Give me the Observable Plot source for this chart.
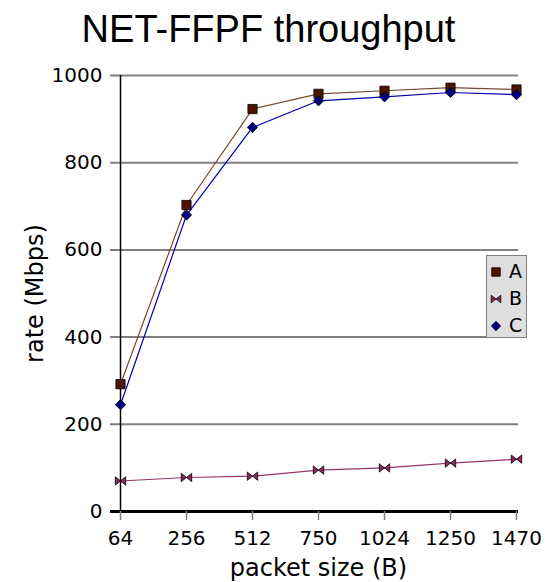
<!DOCTYPE html>
<html>
<head>
<meta charset="utf-8">
<script src="https://cdn.jsdelivr.net/npm/d3@7"></script>
<script src="https://cdn.jsdelivr.net/npm/@observablehq/plot@0.6"></script>
<style>
  html, body { margin: 0; padding: 0; background: white; }
  #wrap { position: relative; width: 545px; height: 582px; overflow: hidden; }
  #title { height: 58px; line-height: 58px; font-family: "Liberation Sans", Arial, sans-serif; font-size: 38px; text-align: center; padding-right: 8px; color: black; white-space: nowrap; }
  #legend { position: absolute; left: 486px; top: 255px; width: 41px; height: 83px; background: #dedede; border: 1px solid #808080; box-sizing: border-box; font-family: "DejaVu Sans", sans-serif; font-size: 19px; }
  .item { position: absolute; left: 0; height: 20px; width: 40px; }
  .item svg { position: absolute; left: 1px; top: 2px; }
  .item span { position: absolute; left: 22px; top: -1px; line-height: 20px; }
</style>
</head>
<body>
<div id="wrap">
  <div id="title">NET-FFPF throughput</div>
  <div id="chart"></div>
  <div id="legend"></div>
</div>
<script>
const sizes = ["64", "256", "512", "750", "1024", "1250", "1470"];
const rateA = [292, 703, 923, 958, 965, 972, 968];
const rateB = [70, 78, 81, 95, 100, 111, 120];
const rateC = [245, 680, 881, 942, 951, 961, 956];
const seriesNames = ["A", "B", "C"];
const yTicks = [0, 200, 400, 600, 800, 1000];

const bowtie = {
  draw(context, size) {
    const r = Math.sqrt(size / Math.PI);
    const h = r * 0.8;
    context.moveTo(-r, -h);
    context.lineTo(0, 0);
    context.lineTo(-r, h);
    context.closePath();
    context.moveTo(r, -h);
    context.lineTo(0, 0);
    context.lineTo(r, h);
    context.closePath();
  }
};

const styles = {
  A: {line: "#7a4632", fill: "#4d1600", symbol: "square", r: 5.2},
  B: {line: "#993366", fill: "#8c2a5c", symbol: bowtie, r: 5.2},
  C: {line: "#0000b0", fill: "#000080", symbol: "diamond2", r: 4.6}
};

const rows = [];
[rateA, rateB, rateC].forEach((vals, i) => {
  vals.forEach((v, j) => rows.push({series: seriesNames[i], size: sizes[j], rate: v}));
});

const marks = [
  Plot.ruleY(yTicks.filter(d => d > 0), {stroke: "#808080", strokeWidth: 2, insetLeft: -8}),
  Plot.ruleX([sizes[0]], {stroke: "black", strokeWidth: 1.5}),
  Plot.ruleY([0], {stroke: "black", strokeWidth: 3, insetLeft: -8}),
  Plot.axisY({ticks: yTicks, tickFormat: d => String(d), tickSize: 0, tickPadding: 16, fontSize: 20, fill: "black", label: null}),
  Plot.axisX({tickSize: 9, tickPadding: 10, stroke: "#808080", strokeWidth: 1.5, fontSize: 20, fill: "black", label: null}),
  Plot.text(["packet size (B)"], {frameAnchor: "bottom", dy: 57, textAnchor: "middle", lineAnchor: "middle", fontSize: 24, fill: "black"}),
  Plot.text(["rate (Mbps)"], {frameAnchor: "left", dx: -83, rotate: -90, textAnchor: "middle", lineAnchor: "middle", fontSize: 24, fill: "black"})
];
for (const s of ["B", "A", "C"]) {
  const data = rows.filter(d => d.series === s);
  const st = styles[s];
  marks.push(Plot.line(data, {x: "size", y: "rate", stroke: st.line, strokeWidth: 1.2}));
  marks.push(Plot.dot(data, {x: "size", y: "rate", symbol: () => st.symbol, r: st.r, fill: st.fill, stroke: "black", strokeWidth: 0.8}));
}

const chart = Plot.plot({
  width: 545,
  height: 524,
  marginLeft: 118,
  marginRight: 27,
  marginTop: 17,
  marginBottom: 71,
  style: {fontFamily: "DejaVu Sans, sans-serif", fontSize: "20px", color: "black", background: "white", overflow: "visible"},
  x: {type: "point", domain: sizes, padding: 0, label: null},
  y: {domain: [0, 1000], label: null},
  symbol: {type: "identity"},
  marks
});
document.getElementById("chart").appendChild(chart);

// legend
const legend = document.getElementById("legend");
seriesNames.forEach((s, i) => {
  const st = styles[s];
  const item = document.createElement("div");
  item.className = "item";
  item.style.top = (6 + i * 27) + "px";
  const sym = typeof st.symbol === "string" ? {square: d3.symbolSquare, diamond2: d3.symbolDiamond2}[st.symbol] : st.symbol;
  const path = d3.symbol(sym, Math.PI * st.r * st.r * 0.85)();
  item.innerHTML = `<svg width="16" height="16"><path transform="translate(8,8)" d="${path}" fill="${st.fill}" stroke="black" stroke-width="0.8"></path></svg><span>${s}</span>`;
  legend.appendChild(item);
});
</script>
</body>
</html>
